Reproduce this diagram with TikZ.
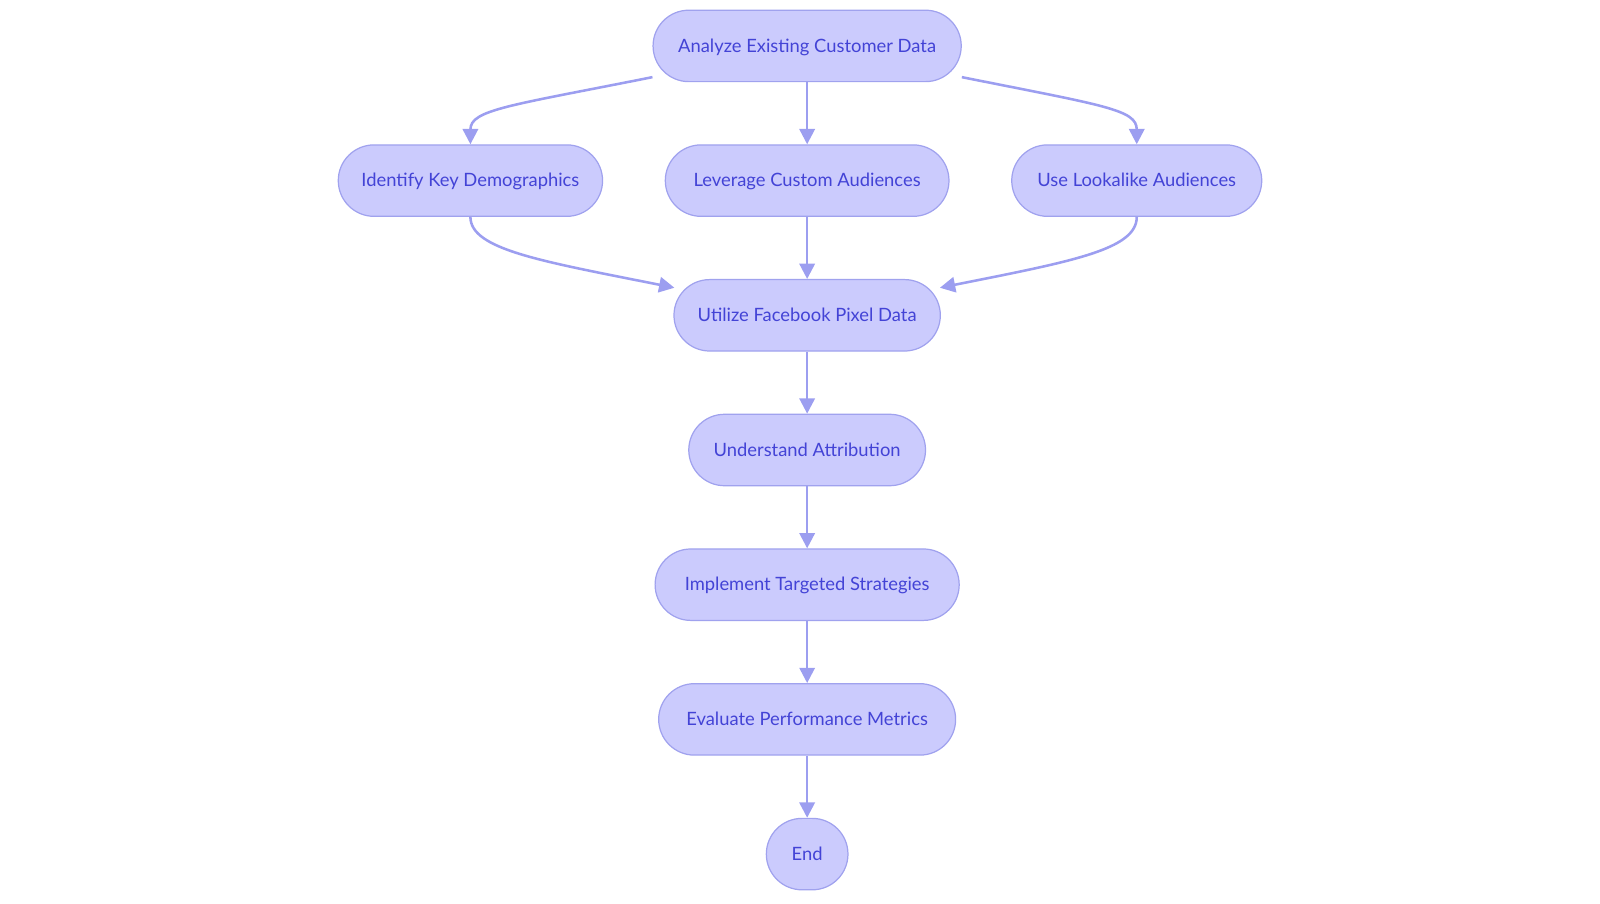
\documentclass[tikz,border=0pt]{standalone}
\usepackage{fontspec}
\setmainfont{Lato}
\usetikzlibrary{arrows.meta}

\definecolor{boxfill}{HTML}{CBCBFD}
\definecolor{boxline}{HTML}{A0A2EE}
\definecolor{boxtext}{HTML}{4343D6}
\definecolor{flow}{HTML}{9C9EF0}

\begin{document}
\begin{tikzpicture}[x=1pt,y=-1pt]

      \useasboundingbox (0,0) rectangle (1568,885);

      \begin{scope}[every node/.style={draw=boxline, fill=boxfill, line width=1.2pt,
          rounded corners=35pt, minimum height=70pt, inner sep=0pt,
          text height=16pt, text depth=4pt,
          text=boxtext, font=\fontsize{18}{20}\selectfont}]
        \node[minimum width=302pt] (analyze)    at (791,45)   {Analyze Existing Customer Data};
        \node[minimum width=259pt] (identify)   at (461,177)  {Identify Key Demographics};
        \node[minimum width=278pt] (leverage)   at (791,177)  {Leverage Custom Audiences};
        \node[minimum width=245pt] (lookalike)  at (1114,177) {Use Lookalike Audiences};
        \node[minimum width=261pt] (utilize)    at (791,309)  {Utilize Facebook Pixel Data};
        \node[minimum width=232pt] (understand) at (791,441)  {Understand Attribution};
        \node[minimum width=298pt] (implement)  at (791,573)  {Implement Targeted Strategies};
        \node[minimum width=291pt] (evaluate)   at (791,705)  {Evaluate Performance Metrics};
        \node[minimum width=80pt]  (end)        at (791,837)  {End};
      \end{scope}

      \begin{scope}[every path/.style={draw=flow, line width=2.5pt},
          >={Triangle[length=15pt,width=15pt]}]
        % straight ones
        \path (analyze)    edge[->] (leverage);
        \path (leverage)   edge[->] (utilize);
        \path (utilize)    edge[->] (understand);
        \path (understand) edge[->] (implement);
        \path (implement)  edge[->] (evaluate);
        \path (evaluate)   edge[->] (end);
        % curved ones
        \draw[->] ([yshift=5pt]analyze.south west) .. controls +(-140,28) and +(0,-34) .. (identify.north);
        \draw[->] ([yshift=5pt]analyze.south east) .. controls +(140,28) and +(0,-34) .. (lookalike.north);
        \draw[->] (identify.south) .. controls +(0,32) and +(-130,-26) .. ([xshift=1pt,yshift=27pt]utilize.west);
        \draw[->] (lookalike.south) .. controls +(0,32) and +(130,-26) .. ([xshift=-1pt,yshift=27pt]utilize.east);
      \end{scope}

    \end{tikzpicture}
\end{document}
